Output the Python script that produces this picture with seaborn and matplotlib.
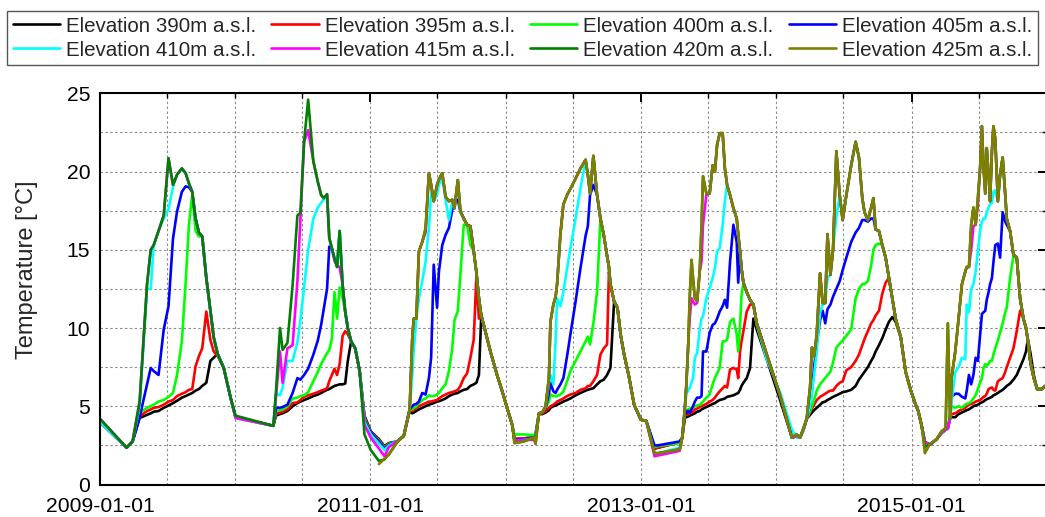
import numpy as np
import pandas as pd
import matplotlib
matplotlib.use("Agg")
import matplotlib.pyplot as plt
import matplotlib.dates as mdates
from matplotlib.ticker import MultipleLocator
import seaborn as sns

nan = np.nan

# Sampling days, counted from 2009-01-01
day = [
    0, 72, 88, 107, 127, 137, 145, 158, 172, 185, 197, 208, 221, 231, 240, 249, 258, 267, 276, 287, 298, 307, 318, 334, 353, 366, 468,
    475, 486, 493, 506, 520, 533, 541, 551, 562, 576, 588, 597, 604, 613, 619, 626, 633, 640, 647, 655, 662, 669, 678, 689, 701, 714, 731,
    753, 768, 780, 802, 820, 836,
    843, 847, 854, 861, 870, 879, 888, 894, 901, 910, 915, 924, 933, 942, 951, 957, 966, 973, 982, 991, 1000, 1009, 1016, 1023, 1029, 1036, 1054, 1072, 1086, 1099, 1113, 1119, 1144, 1171, 1176,
    1185, 1194, 1203, 1212, 1216, 1224, 1230, 1234, 1243, 1251, 1261, 1270, 1284, 1297, 1311, 1317, 1323, 1332, 1342, 1351, 1360, 1369, 1374, 1378, 1388, 1397, 1406, 1415, 1428, 1442, 1460,
    1475, 1497, 1506, 1565, 1572, 1579, 1583, 1588, 1592, 1597, 1601, 1606, 1612, 1619, 1624, 1628, 1637, 1646, 1654, 1660, 1666, 1673, 1681, 1687, 1693, 1701, 1710, 1719, 1723, 1728, 1732, 1737, 1746, 1755, 1764, 1773, 1800, 1836, 1868, 1881, 1890, 1899, 1908,
    1917, 1922, 1928, 1935, 1944, 1951, 1958, 1964, 1972, 1979, 1988, 1997, 2005, 2015, 2028, 2040, 2049, 2058, 2064, 2073, 2082, 2088, 2094, 2103, 2112, 2121, 2130, 2139, 2148, 2162, 2175, 2189, 2202,
    2209, 2218, 2227, 2241, 2259, 2272, 2283, 2289, 2295, 2299, 2309, 2318, 2327, 2336, 2340, 2346, 2352, 2358, 2364, 2370, 2376, 2381, 2385, 2390, 2394, 2399, 2403, 2408, 2412, 2417, 2424, 2430, 2437, 2444, 2448, 2457, 2466, 2475, 2484, 2493, 2500, 2505, 2512, 2521, 2530, 2543, 2552,
]

# Water temperature [°C] at each elevation
t390 = [
    4.0, 2.35, 2.75, 4.25, 4.45, 4.55, 4.65, 4.7, 4.9, 5.05, 5.2, 5.35, 5.55, 5.65, 5.75, 5.85, 6.0, 6.1, 6.3, 6.5, 7.9, 8.1, 8.35, 7.45, 5.5, 4.3, 3.75,
    4.4, 4.5, 4.55, 4.7, 5.0, 5.2, 5.3, 5.4, 5.5, 5.65, 5.75, 5.85, 5.95, 6.05, 6.1, 6.2, 6.3, 6.35, 6.4, 6.4, 6.45, 7.9, 9.15, 8.7, 7.25, 4.4, 3.4,
    2.9, 2.45, 2.65, 2.75, 3.1, 4.7,
    4.55, 4.6, 4.7, 4.8, 4.9, 5.0, 5.1, 5.15, 5.2, 5.3, 5.32, 5.4, 5.5, 5.65, 5.75, 5.8, 5.85, 5.95, 6.05, 6.1, 6.3, 6.4, 6.5, 7.0, 10.6, 10.2, 8.5, 7.0, 5.95, 4.9, 3.8, 2.9, 2.95, 3.0, 3.2,
    4.5, 4.5, 4.6, 4.75, 4.9, 5.0, 5.05, 5.1, 5.2, 5.3, 5.4, 5.5, 5.7, 5.85, 6.0, 6.05, 6.1, 6.15, 6.4, 6.6, 6.7, 7.0, 7.25, 7.45, 11.7, 11.3, 9.5, 8.3, 6.9, 5.1, 4.15,
    4.05, 2.3, 2.35, 2.7, 3.0, 4.25, 4.3, 4.35, 4.4, 4.45, 4.5, 4.55, 4.65, 4.7, 4.8, 4.85, 4.95, 5.05, 5.15, 5.2, 5.3, 5.4, 5.45, 5.5, 5.6, 5.65, 5.7, 5.8, 5.85, 6.05, 6.3, 6.5, 6.8, 7.45, 10.6, 9.9, 8.0, 5.4, 3.0, 3.1, 3.0, 3.5, 4.2,
    4.45, 4.6, 4.75, 4.9, 5.1, 5.25, 5.3, 5.4, 5.5, 5.6, 5.7, 5.8, 5.9, 5.95, 6.05, 6.3, 6.7, 7.0, 7.2, 7.5, 7.9, 8.15, 8.5, 8.9, 9.35, 9.9, 10.4, 10.7, 10.4, 9.4, 7.2, 6.0, 5.1,
    4.7, 3.8, 2.7, 2.55, 2.9, 3.3, 3.5, 3.6, 4.2, 4.3, 4.3, 4.5, 4.6, 4.7, 4.75, 4.8, 4.9, 5.0, 5.05, 5.1, 5.2, 5.25, 5.3, 5.4, 5.45, 5.5, 5.55, 5.6, 5.7, 5.75, 5.85, 5.95, 6.05, 6.2, 6.3, 6.45, 6.7, 7.0, 7.5, 8.0, 8.5, 9.3, 8.4, 7.0, 6.1, 6.1, 6.3,
]
t395 = [
    4.0, 2.35, 2.75, 4.35, 4.7, 4.8, 4.9, 4.95, 5.1, 5.3, 5.4, 5.65, 5.8, 5.9, 6.05, 6.1, 7.55, 8.2, 8.7, 11.05, 9.25, 8.5, 8.2, 7.45, 5.5, 4.3, 3.75,
    4.5, 4.6, 4.65, 4.8, 5.2, 5.25, 5.4, 5.6, 5.7, 5.8, 5.9, 6.0, 6.05, 6.15, 6.6, 7.0, 7.4, 7.0, 7.7, 9.5, 9.8, 9.6, 9.15, 8.7, 7.25, 4.3, 3.35,
    2.85, 2.4, 2.6, 2.75, 3.1, 4.75,
    4.7, 4.75, 4.9, 5.0, 5.1, 5.2, 5.3, 5.3, 5.35, 5.4, 5.5, 5.65, 5.75, 5.85, 5.9, 5.95, 6.05, 6.3, 6.8, 7.1, 8.1, 9.25, 13.2, 10.6, 10.85, 10.2, 8.5, 7.0, 5.95, 4.9, 3.8, 2.9, 2.95, 3.0, 3.2,
    4.5, 4.55, 4.7, 4.9, 5.0, 5.1, 5.2, 5.3, 5.4, 5.5, 5.65, 5.75, 5.85, 6.05, 6.15, 6.3, 6.3, 6.6, 7.0, 8.3, 8.7, 8.95, 13.6, 12.8, 11.7, 11.3, 9.5, 8.3, 6.9, 5.1, 4.15,
    4.05, 2.3, 2.35, 2.7, 3.0, 4.45, 4.45, 4.5, 4.55, 4.6, 4.65, 4.8, 4.85, 4.95, 5.0, 5.05, 5.15, 5.3, 5.4, 5.55, 5.75, 5.95, 6.15, 6.3, 6.2, 7.35, 7.45, 7.35, 6.8, 8.5, 9.15, 9.8, 11.05, 11.5, 11.5, 10.3, 8.3, 5.7, 3.0, 3.1, 3.0, 3.5, 4.2,
    4.6, 4.85, 5.1, 5.4, 5.6, 5.7, 5.8, 5.9, 6.0, 6.0, 6.3, 6.5, 6.6, 7.3, 7.5, 7.9, 8.3, 8.9, 9.3, 9.8, 10.3, 10.5, 10.8, 11.1, 12.2, 12.9, 13.2, 11.9, 10.6, 9.4, 7.2, 6.0, 5.1,
    4.7, 3.8, 2.7, 2.55, 2.9, 3.3, 3.5, 3.6, 4.3, 4.5, 4.55, 4.7, 4.8, 4.9, 5.0, 5.1, 5.15, 5.2, 5.3, 5.35, 5.4, 5.5, 5.6, 5.65, 5.8, 6.1, 6.15, 6.2, 6.05, 6.0, 6.6, 6.7, 6.8, 7.2, 7.5, 8.1, 8.7, 9.8, 11.1, 10.6, 10.0, 9.2, 7.8, 6.8, 6.1, 6.1, 6.3,
]
t400 = [
    4.0, 2.35, 2.75, 4.6, 4.9, 5.0, 5.1, 5.3, 5.4, 5.6, 5.85, 7.0, 9.15, 12.8, 16.6, 18.5, 16.2, 15.85, 15.85, 13.2, 11.1, 9.4, 8.3, 7.45, 5.5, 4.3, 3.75,
    4.7, 4.75, 4.8, 5.0, 5.5, 5.55, 5.65, 5.7, 5.9, 6.6, 7.2, 7.7, 8.0, 8.4, 8.6, 9.3, 12.3, 10.6, 12.6, 11.9, 11.05, 10.0, 9.15, 8.7, 7.25, 4.2, 3.3,
    2.8, 2.35, 2.6, 2.75, 3.1, 4.8,
    4.8, 4.9, 5.0, 5.2, 5.4, 5.5, 5.7, 5.65, 5.65, 5.75, 5.85, 6.15, 6.4, 7.25, 8.7, 10.5, 11.1, 13.4, 16.6, 16.6, 15.3, 14.9, 13.6, 11.9, 10.85, 10.2, 8.5, 7.0, 5.95, 4.9, 3.8, 3.2, 3.2, 3.15, 3.3,
    4.55, 4.6, 4.9, 5.3, 5.75, 5.65, 5.65, 5.65, 5.75, 5.95, 6.6, 7.25, 7.9, 8.5, 9.15, 9.45, 8.95, 10.3, 12.35, 17.0, 15.95, 14.6, 13.9, 12.8, 11.7, 11.3, 9.5, 8.3, 6.9, 5.1, 4.15,
    4.05, 2.4, 2.45, 2.65, 3.0, 4.7, 4.75, 4.8, 4.85, 4.9, 4.95, 5.0, 5.05, 5.1, 5.2, 5.3, 5.55, 5.75, 6.4, 6.8, 7.1, 7.45, 9.15, 9.15, 9.25, 10.4, 10.6, 9.6, 8.5, 10.2, 12.1, 12.9, 12.3, 11.8, 11.5, 10.3, 8.3, 5.7, 3.0, 3.1, 3.0, 3.5, 4.2,
    4.7, 5.0, 5.4, 6.0, 6.4, 6.6, 6.8, 7.0, 7.2, 7.8, 8.75, 9.0, 9.2, 9.5, 9.9, 11.9, 12.5, 12.8, 12.8, 13.0, 14.0, 15.0, 15.3, 15.4, 15.3, 14.5, 13.2, 11.9, 10.6, 9.4, 7.2, 6.0, 5.1,
    4.7, 3.8, 2.7, 2.55, 2.9, 3.3, 3.5, 3.6, 4.4, 5.0, 4.9, 5.0, 4.9, 5.1, 5.15, 5.2, 5.3, 5.5, 5.7, 6.1, 6.5, 6.8, 7.4, 7.7, 7.6, 7.7, 7.9, 7.9, 8.3, 8.7, 9.2, 9.7, 10.3, 11.0, 11.3, 13.2, 14.6, 14.5, 11.9, 10.6, 10.0, 9.2, 7.8, 6.8, 6.1, 6.1, 6.3,
]
t405 = [
    4.0, 2.35, 2.75, 4.3, 6.4, 7.45, 7.25, 7.0, 9.9, 11.4, 15.7, 17.45, 18.7, 19.05, 19.0, 18.7, 17.0, 16.1, 15.85, 13.2, 11.1, 9.4, 8.3, 7.45, 5.5, 4.3, 3.75,
    4.9, 4.9, 4.95, 5.1, 5.85, 6.8, 6.7, 7.0, 7.4, 8.3, 9.2, 10.2, 11.2, 12.5, 15.2, 15.1, 14.45, 13.9, 16.2, 12.75, 11.05, 10.0, 9.15, 8.7, 7.25, 4.1, 3.3,
    2.75, 2.3, 2.55, 2.75, 3.1, 4.8,
    5.0, 5.1, 5.15, 5.3, 5.85, 5.75, 6.8, 8.1, 14.05, 11.3, 13.6, 15.3, 15.95, 16.4, 17.55, 18.1, 18.2, 17.45, 17.0, 16.6, 16.5, 14.9, 13.6, 11.9, 10.85, 10.2, 8.5, 7.0, 5.95, 4.9, 3.8, 2.85, 2.9, 3.0, 3.1,
    4.55, 4.6, 4.9, 5.8, 6.5, 5.95, 5.85, 6.05, 6.4, 6.8, 8.2, 9.6, 11.7, 13.8, 15.9, 16.5, 18.5, 19.15, 18.5, 17.0, 15.95, 14.6, 13.9, 12.8, 11.7, 11.3, 9.5, 8.3, 6.9, 5.1, 4.15,
    4.05, 2.5, 2.5, 2.75, 3.0, 4.8, 4.55, 4.7, 4.6, 4.8, 5.0, 5.3, 5.55, 5.55, 5.65, 8.5, 8.5, 9.7, 10.2, 10.3, 10.6, 11.05, 11.4, 11.8, 11.3, 14.25, 16.6, 15.5, 12.9, 14.9, 13.8, 12.9, 12.3, 11.8, 11.5, 10.3, 8.3, 5.7, 3.0, 3.1, 3.0, 3.5, 4.2,
    5.0, 6.0, 7.5, 9.0, 10.5, 11.1, 10.3, 11.2, 11.5, 12.0, 12.5, 13.0, 13.7, 14.5, 15.5, 16.1, 16.4, 16.9, 16.9, 16.8, 17.0, 17.0, 16.3, 16.2, 15.3, 14.5, 13.2, 11.9, 10.6, 9.4, 7.2, 6.0, 5.1,
    4.7, 3.8, 2.7, 2.55, 2.9, 3.3, 3.5, 3.6, 4.3, 5.6, 5.8, 5.8, 5.6, 5.5, 6.0, 7.0, 6.4, 7.0, 8.1, 7.9, 9.5, 10.9, 11.0, 11.1, 11.8, 12.3, 12.8, 13.2, 14.2, 15.3, 15.4, 14.5, 17.4, 16.8, 16.6, 16.2, 14.7, 14.5, 11.9, 10.6, 10.0, 9.2, 7.8, 6.8, 6.1, 6.1, 6.3,
]
t410 = [
    4.0, 2.35, 2.75, 5.0, 12.5, 12.5, 15.3, 16.2, 17.0, 17.6, 19.0, 19.8, 20.2, 19.9, 19.25, 18.7, 17.0, 16.1, 15.85, 13.2, 11.1, 9.4, 8.3, 7.45, 5.5, 4.25, 3.75,
    5.8, 5.7, 6.2, 7.9, 7.9, 9.1, 10.5, 12.6, 15.0, 17.0, 17.7, 18.0, 18.2, 18.55, 15.75, 15.1, 14.45, 13.9, 16.2, 12.75, 11.05, 10.0, 9.15, 8.7, 7.25, 4.0, 3.2,
    2.6, 2.2, 2.5, 2.75, 3.1, 4.8,
    7.0, 8.5, 10.6, 11.9, 13.0, 14.25, 16.4, 18.7, 18.1, 18.5, 19.15, 19.6, 18.2, 16.9, 18.1, 17.65, 19.45, 17.45, 17.0, 16.6, 16.5, 14.9, 13.6, 11.9, 10.85, 10.2, 8.5, 7.0, 5.95, 4.9, 3.8, 2.8, 2.85, 2.95, 3.0,
    4.55, 4.6, 5.0, 6.5, 7.0, 6.4, 9.15, 11.9, 11.4, 12.3, 13.8, 15.1, 17.0, 18.9, 20.75, 19.8, 18.6, 21.0, 18.5, 17.0, 15.95, 14.6, 13.9, 12.8, 11.7, 11.3, 9.5, 8.3, 6.9, 5.1, 4.15,
    4.05, 2.0, 2.0, 2.35, 3.0, 4.9, 5.75, 6.05, 6.15, 6.5, 6.8, 8.1, 8.4, 9.9, 10.6, 10.75, 11.9, 12.55, 13.2, 13.8, 14.9, 15.1, 16.6, 18.1, 19.15, 18.5, 17.65, 17.0, 16.0, 14.9, 13.8, 12.9, 12.3, 11.8, 11.5, 10.2, 8.0, 5.9, 3.5, 3.0, 3.0, 3.4, 4.2,
    5.0, 5.8, 7.0, 8.5, 11.0, 11.5, 11.6, 13.2, 13.4, 15.0, 17.1, 18.5, 16.9, 18.5, 20.4, 21.9, 20.9, 18.3, 17.4, 16.9, 17.7, 18.3, 16.3, 16.2, 15.3, 14.5, 13.2, 11.9, 10.6, 9.4, 7.2, 6.0, 5.1,
    4.7, 3.8, 2.65, 2.55, 2.9, 3.3, 3.5, 3.6, 4.2, 5.3, 7.2, 7.5, 8.1, 8.0, 11.5, 11.0, 12.5, 12.8, 13.6, 14.9, 16.2, 16.8, 17.0, 17.0, 17.4, 17.7, 17.9, 18.0, 18.7, 18.8, 18.1, 19.8, 20.9, 18.5, 17.0, 16.2, 14.7, 14.5, 11.9, 10.6, 10.0, 9.2, 7.8, 6.8, 6.1, 6.1, 6.3,
]
t415 = [
    4.2, 2.35, 2.75, 5.3, 12.8, 15.0, 15.3, 16.2, 17.2, 20.85, 19.15, 19.8, 20.2, 19.9, 19.25, 18.7, 17.0, 16.1, 15.85, 13.2, 11.1, 9.4, 8.3, 7.45, 5.5, 4.25, 3.75,
    5.6, 8.5, 6.5, 8.7, 8.9, 13.0, 17.0, 21.9, 22.65, 20.65, 19.35, 18.5, 18.3, 18.55, 15.75, 15.1, 14.3, 14.0, 13.9, 12.75, 11.05, 10.0, 9.15, 8.7, 7.25, 3.8, 3.0,
    2.3, 1.8, 2.4, 2.75, 3.1, 4.8,
    9.35, 10.6, 10.6, 14.9, 15.5, 16.1, 19.9, 19.15, 18.1, 19.15, 19.5, 19.9, 18.4, 18.1, 18.2, 17.65, 19.45, 17.45, 17.0, 16.6, 16.5, 14.9, 13.6, 11.9, 10.85, 10.2, 8.5, 7.0, 5.95, 4.9, 3.8, 2.8, 2.85, 2.85, 2.9,
    4.55, 4.6, 5.0, 6.8, 10.4, 11.5, 12.0, 12.8, 16.0, 17.9, 18.5, 18.9, 19.55, 20.2, 20.75, 19.8, 18.6, 21.0, 18.5, 17.0, 15.95, 14.6, 13.9, 12.8, 11.7, 11.3, 9.5, 8.3, 6.9, 5.1, 4.15,
    4.05, 1.8, 1.85, 2.15, 3.0, 4.9, 6.4, 8.9, 10.6, 11.9, 11.7, 11.5, 11.6, 13.6, 14.25, 16.6, 18.5, 18.6, 20.4, 20.0, 21.7, 22.45, 22.45, 20.2, 19.15, 18.5, 17.65, 17.0, 16.0, 14.9, 13.8, 12.9, 12.3, 11.8, 11.5, 10.3, 8.3, 5.7, 3.0, 3.1, 3.0, 3.5, 4.2,
    6.2, 8.75, 8.2, 9.6, 13.5, 11.6, 11.6, 16.0, 13.4, 15.0, 21.3, 18.5, 16.9, 18.5, 20.4, 21.9, 20.9, 18.3, 17.4, 16.9, 17.7, 18.3, 16.3, 16.2, 15.3, 14.5, 13.2, 11.9, 10.6, 9.4, 7.2, 6.0, 5.1,
    4.7, 3.7, 2.7, 2.55, 2.9, 3.3, 3.5, 3.6, 4.2, 6.8, 8.5, 10.6, 12.8, 13.6, 13.9, 13.9, 15.0, 16.5, 16.6, 17.8, 20.2, 22.9, 20.4, 18.6, 21.5, 19.8, 18.1, 21.3, 22.9, 22.1, 18.1, 19.8, 20.9, 18.5, 17.0, 16.2, 14.7, 14.5, 11.9, 10.6, 10.0, 9.2, 7.8, 6.8, 6.1, 6.1, 6.3,
]
t420 = [
    4.2, 2.35, 2.75, 5.3, 12.8, 15.0, 15.3, 16.2, 17.2, 20.85, 19.15, 19.8, 20.2, 19.9, 19.25, 18.7, 17.0, 16.1, 15.85, 13.2, 11.1, 9.4, 8.3, 7.45, 5.5, 4.4, 3.75,
    5.9, 10.0, 8.6, 9.05, 12.75, 17.2, 17.35, 21.9, 24.6, 20.65, 19.35, 18.5, 18.3, 18.55, 15.75, 15.1, 14.45, 13.9, 16.2, 12.75, 11.05, 10.0, 9.15, 8.7, 7.25, 3.2, 2.2,
    1.5, 1.6, 1.95, 2.7, 3.1, 4.8,
    9.35, 10.6, 10.6, 14.9, 15.5, 16.35, 19.9, 19.15, 18.1, 19.15, 19.5, 19.9, 18.4, 18.1, 18.2, 17.65, 19.45, 17.45, 17.0, 16.6, 16.5, 14.9, 13.6, 11.9, 10.85, 10.2, 8.5, 7.0, 5.95, 4.9, 3.8, 2.65, 2.75, 3.0, 2.6,
    4.55, 4.6, 5.0, 6.8, 10.4, 11.5, 12.0, 12.8, 16.0, 17.9, 18.5, 18.9, 19.55, 20.2, 20.75, 19.8, 18.6, 21.0, 18.5, 17.0, 15.95, 14.6, 13.9, 12.8, 11.7, 11.3, 9.5, 8.3, 6.9, 5.1, 4.15,
    4.05, 2.0, 2.0, 2.25, 3.0, 4.9, 6.4, 8.9, 11.9, 14.35, 13.2, 11.9, 11.7, 13.6, 16.6, 19.7, 18.6, 18.6, 20.4, 20.0, 21.7, 22.45, 22.45, 20.2, 19.15, 18.5, 17.65, 17.0, 16.0, 14.9, 13.8, 12.9, 12.3, 11.8, 11.5, 10.3, 8.3, 5.7, 3.0, 3.2, 3.0, 3.6, 4.2,
    6.2, 8.75, 8.2, 9.6, 13.5, 11.6, 11.6, 16.0, 13.4, 15.0, 21.3, 18.5, 16.9, 18.5, 20.4, 21.9, 20.9, 18.3, 17.4, 16.9, 17.7, 18.3, 16.3, 16.2, 15.3, 14.5, 13.2, 11.9, 10.6, 9.4, 7.2, 6.0, 5.1,
    4.7, 3.8, 2.4, 2.55, 2.9, 3.4, 3.6, 10.3, 4.2, 6.8, 8.5, 10.6, 12.8, 13.6, 13.9, 13.9, 16.6, 17.7, 16.6, 18.3, 20.2, 22.9, 20.4, 18.6, 21.5, 19.8, 18.1, 21.3, 22.9, 22.1, 18.1, 19.8, 20.9, 18.5, 17.0, 16.2, 14.7, 14.5, 11.9, 10.6, 10.0, 9.2, 7.8, 6.8, 6.1, 6.1, 6.3,
]
t425 = [
    nan, nan, nan, nan, nan, nan, nan, nan, nan, nan, nan, nan, nan, nan, nan, nan, nan, nan, nan, nan, nan, nan, nan, nan, nan, nan, nan,
    nan, nan, nan, nan, nan, nan, nan, nan, nan, nan, nan, nan, nan, nan, nan, nan, nan, nan, nan, nan, nan, nan, nan, nan, nan, nan, nan,
    1.3, 1.65, 1.9, 2.7, 3.1, 4.8,
    9.35, 10.6, 10.6, 14.9, 15.5, 16.35, 19.9, 19.15, 18.1, 19.15, 19.5, 19.9, 18.4, 18.1, 18.2, 17.65, 19.45, 17.45, 17.0, 16.6, 16.5, 14.9, 13.6, 11.9, 10.85, 10.2, 8.5, 7.0, 5.95, 4.9, 3.8, 2.65, 2.75, 3.0, 2.6,
    4.55, 4.6, 5.0, 6.8, 10.4, 11.5, 12.0, 12.8, 16.0, 17.9, 18.5, 18.9, 19.55, 20.2, 20.75, 19.8, 18.6, 21.0, 18.5, 17.0, 15.95, 14.6, 13.9, 12.8, 11.7, 11.3, 9.5, 8.3, 6.9, 5.1, 4.15,
    4.05, 2.0, 2.0, 2.25, 3.0, 4.9, 6.4, 8.9, 11.9, 14.35, 13.2, 11.9, 11.7, 13.6, 16.6, 19.7, 18.6, 18.6, 20.4, 20.0, 21.7, 22.45, 22.45, 20.2, 19.15, 18.5, 17.65, 17.0, 16.0, 14.9, 13.8, 12.9, 12.3, 11.8, 11.5, 10.3, 8.3, 5.7, 3.0, 3.2, 3.0, 3.6, 4.2,
    6.2, 8.75, 8.2, 9.6, 13.5, 11.6, 11.6, 16.0, 13.4, 15.0, 21.3, 18.5, 16.9, 18.5, 20.4, 21.9, 20.9, 18.3, 17.4, 16.9, 17.7, 18.3, 16.3, 16.2, 15.3, 14.5, 13.2, 11.9, 10.6, 9.4, 7.2, 6.0, 5.1,
    4.7, 3.8, 2.0, 2.6, 2.9, 3.4, 3.6, 10.3, 4.2, 6.8, 8.5, 10.6, 12.8, 13.6, 13.9, 13.9, 16.6, 17.7, 16.6, 18.3, 20.2, 22.9, 20.4, 18.6, 21.5, 19.8, 18.1, 21.3, 22.9, 22.1, 18.1, 19.8, 20.9, 18.5, 17.0, 16.2, 14.7, 14.5, 11.9, 10.6, 10.0, 9.2, 7.8, 6.8, 6.1, 6.1, 6.3,
]

series_labels = [
    "Elevation 390m a.s.l.", "Elevation 395m a.s.l.", "Elevation 400m a.s.l.", "Elevation 405m a.s.l.",
    "Elevation 410m a.s.l.", "Elevation 415m a.s.l.", "Elevation 420m a.s.l.", "Elevation 425m a.s.l.",
]
series_colors = ["#000000", "#ff0000", "#00ff00", "#0000ff", "#00ffff", "#ff00ff", "#008000", "#808000"]
xtick_dates = ["2009-01-01", "2011-01-01", "2013-01-01", "2015-01-01"]
ytick_values = [0, 5, 10, 15, 20, 25]
y_label = "Temperature [°C]"

columns = [t390, t395, t400, t405, t410, t415, t420, t425]
for col in columns:
    assert len(col) == len(day)

dates = pd.Timestamp("2009-01-01") + pd.to_timedelta(day, unit="D")
wide = pd.DataFrame({"date": dates})
for lab, col in zip(series_labels, columns):
    wide[lab] = col
long = wide.melt(id_vars="date", var_name="series", value_name="temperature").dropna()

sns.set_theme(style="white")
plt.rcParams["font.family"] = ["Liberation Sans", "DejaVu Sans"]
plt.rcParams["axes.edgecolor"] = "black"

W, H = 1045, 517
fig = plt.figure(figsize=(W / 100, H / 100), dpi=100)
ax = fig.add_axes([100 / W, 1 - 484.5 / H, 946.75 / W, (484.5 - 93.3) / H])

sns.lineplot(
    data=long, x="date", y="temperature", hue="series",
    hue_order=series_labels, palette=dict(zip(series_labels, series_colors)),
    estimator=None, linewidth=1.9, ax=ax,
)

handles, labels = ax.get_legend_handles_labels()
ax.get_legend().remove()

ax.set_xlim(pd.Timestamp("2009-01-01"), pd.Timestamp("2016-01-01"))
ax.set_ylim(0, 25)

xt = pd.to_datetime(xtick_dates)
ax.set_xticks(xt)
ax.set_xticklabels(xtick_dates)
ax.xaxis.set_minor_locator(mdates.MonthLocator(bymonth=[1, 7]))
ax.set_yticks(ytick_values)
ax.set_yticklabels([str(v) for v in ytick_values])
ax.yaxis.set_minor_locator(MultipleLocator(2.5))

ax.grid(which="both", color="#8c8c8c", linestyle=(0, (2.2, 2.2)), linewidth=0.8)
ax.set_axisbelow(True)

ax.tick_params(which="both", direction="in", top=True, right=True, colors="black")
ax.tick_params(which="major", length=6.5, width=1.4, labelsize=15.2)
ax.tick_params(axis="x", which="major", pad=9)
ax.tick_params(axis="y", which="major", pad=7)
ax.tick_params(which="minor", length=3.5, width=1.0)
for sp in ax.spines.values():
    sp.set_visible(True)
    sp.set_linewidth(1.5)
    sp.set_color("black")

ax.set_xlabel("")
ax.set_ylabel(y_label, fontsize=17)
ax.yaxis.set_label_coords(-0.066, 0.548)

order = [0, 4, 1, 5, 2, 6, 3, 7]
leg = fig.legend(
    [handles[i] for i in order], [labels[i] for i in order],
    ncol=4, mode="expand", loc="upper left",
    bbox_to_anchor=(7 / W, 1 - 67 / H, 1031 / W, 56 / H),
    fontsize=14.8, frameon=True, fancybox=False, framealpha=1,
    edgecolor="#555555", borderpad=0.27, labelspacing=0.25,
    handlelength=2.3, handletextpad=0.3, borderaxespad=0,
)
leg.get_frame().set_linewidth(1.0)

fig.savefig("out.png", dpi=100)
